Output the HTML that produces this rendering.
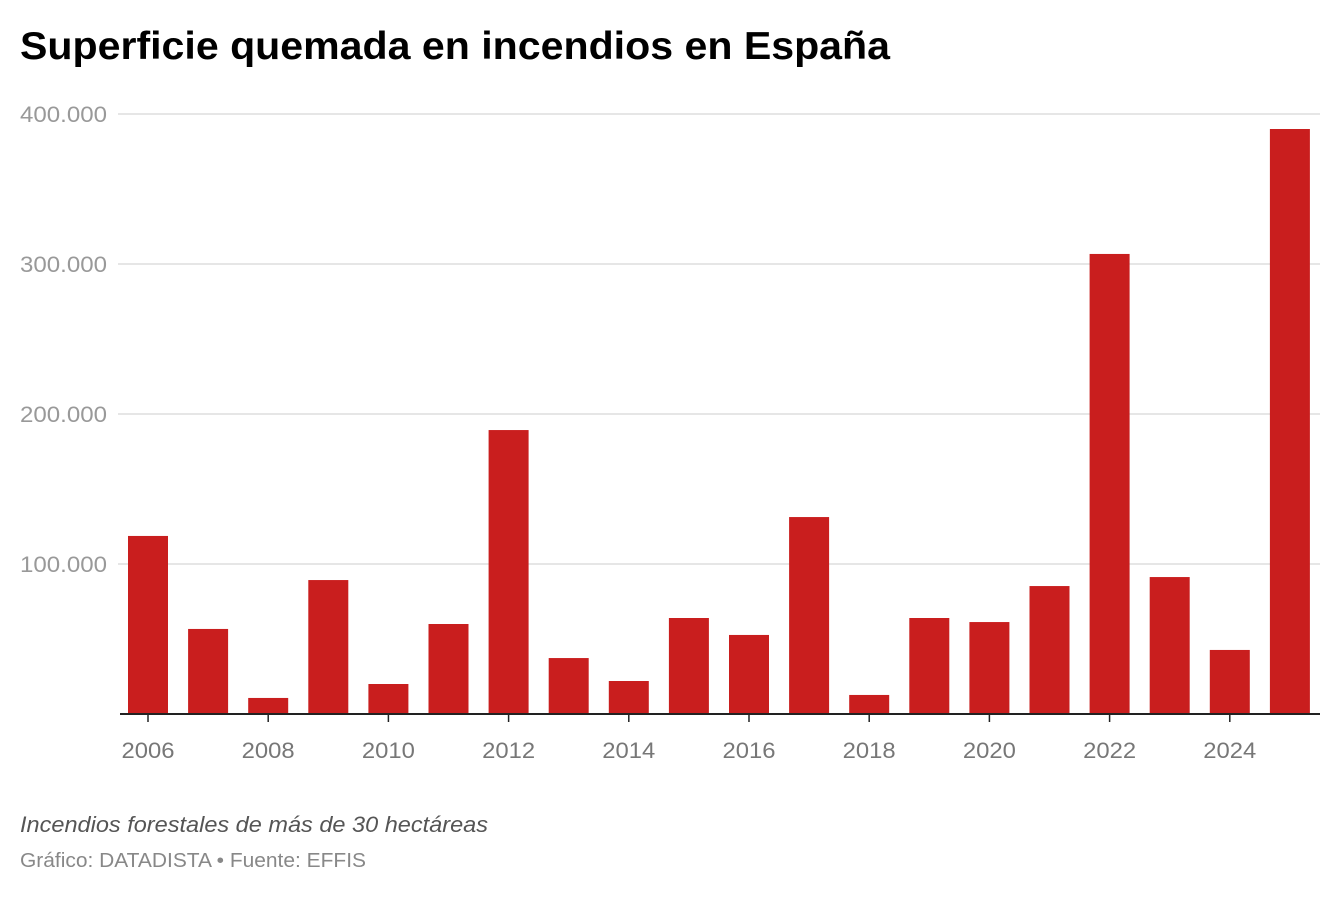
<!DOCTYPE html>
<html><head><meta charset="utf-8"><style>
body{margin:0;background:#fff;font-family:"Liberation Sans",sans-serif;}
svg text{font-family:"Liberation Sans",sans-serif;}
</style></head><body>
<svg id="c" width="1340" height="894">
<text x="20" y="59" font-size="39" font-weight="bold" fill="#000" textLength="870" lengthAdjust="spacingAndGlyphs">Superficie quemada en incendios en España</text>
<g id="grid"></g><g id="bars"></g><g id="xaxis"></g>
<text x="20" y="832" font-size="22" font-style="italic" fill="#555" textLength="468" lengthAdjust="spacingAndGlyphs">Incendios forestales de más de 30 hectáreas</text>
<text x="20" y="867" font-size="20" fill="#888" textLength="346" lengthAdjust="spacingAndGlyphs">Gráfico: DATADISTA • Fuente: EFFIS</text>
</svg>
<script>
const years=[2006,2007,2008,2009,2010,2011,2012,2013,2014,2015,2016,2017,2018,2019,2020,2021,2022,2023,2024,2025];
const values=[118700,56700,10700,89300,20000,60000,189300,37300,22000,64000,52700,131300,12700,64000,61300,85300,306700,91300,42700,390000];
const yTicks=[100000,200000,300000,400000];
const yTickLabels=["100.000","200.000","300.000","400.000"];
const xTickYears=[2006,2008,2010,2012,2014,2016,2018,2020,2022,2024];
const NS="http://www.w3.org/2000/svg";
const y=v=>714-v*150/100000;
const x=yr=>148+(yr-2006)*60.1;
function mk(t,a,p){const e=document.createElementNS(NS,t);for(const k in a)e.setAttribute(k,a[k]);p.appendChild(e);return e;}
const g=document.getElementById('grid');
yTicks.forEach((v,i)=>{
 const l=mk('line',{x1:118,x2:1320,y1:y(v),y2:y(v),stroke:'#ddd','stroke-width':1.5},g);
 
 
 const t=mk('text',{x:20,y:y(v)+8,'font-size':22,fill:'#999',textLength:87,lengthAdjust:'spacingAndGlyphs'},g);
 t.textContent=yTickLabels[i];
 
 
});
const b=document.getElementById('bars');
years.forEach((yr,i)=>{
 const r=mk('rect',{x:x(yr)-20,y:y(values[i]),width:40,height:714-y(values[i]),fill:'#c91e1e'},b);
 
 
});
const xa=document.getElementById('xaxis');
const ax=mk('line',{x1:120,x2:1320,y1:714,y2:714,stroke:'#222','stroke-width':2},xa);


xTickYears.forEach(yr=>{
 const tk=mk('line',{x1:x(yr),x2:x(yr),y1:714,y2:722,stroke:'#222','stroke-width':1.5},xa);
 
 
 const t=mk('text',{x:x(yr),y:758,'font-size':22,fill:'#777','text-anchor':'middle',textLength:53,lengthAdjust:'spacingAndGlyphs'},xa);
 t.textContent=yr;
 
 
});
</script>
</body></html>
